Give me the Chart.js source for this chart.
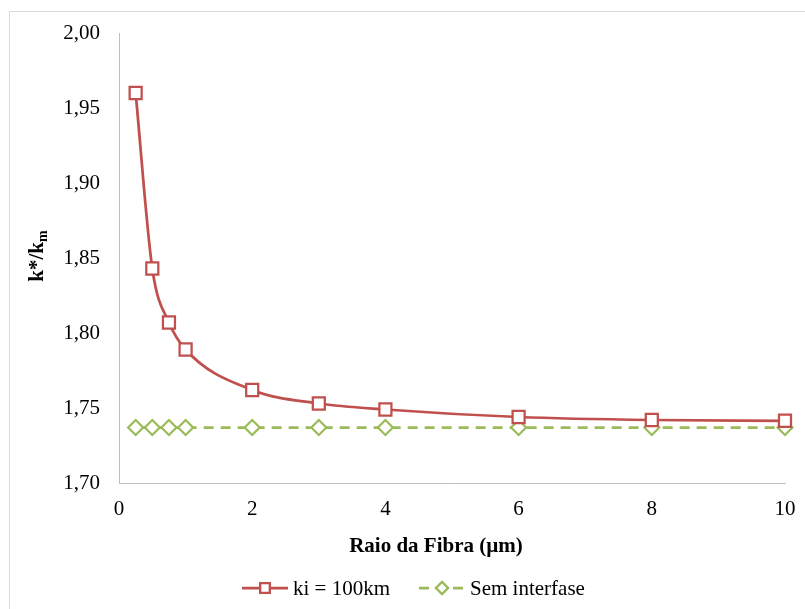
<!DOCTYPE html>
<html>
<head>
<meta charset="utf-8">
<script src="https://cdn.jsdelivr.net/npm/chart.js@4/dist/chart.umd.min.js"></script>
<style>
  html, body { margin: 0; padding: 0; background: #fff; }
  #wrap { width: 805px; height: 609px; }
</style>
</head>
<body>
<div id="wrap"><canvas id="chart" width="805" height="609"></canvas></div>
<script>
// fibre radius (µm)
const radius = [0.25, 0.5, 0.75, 1, 2, 3, 4, 6, 8, 10];
// k*/km for ki = 100km
const kiSeries = [1.960, 1.843, 1.807, 1.789, 1.762, 1.753, 1.749, 1.744, 1.742, 1.7415];
// k*/km without interphase
const semSeries = [1.737, 1.737, 1.737, 1.737, 1.737, 1.737, 1.737, 1.737, 1.737, 1.737];

const xTicks = [0, 2, 4, 6, 8, 10];
const yTicks = [1.70, 1.75, 1.80, 1.85, 1.90, 1.95, 2.00];

const RED = '#C0504D';
const GREEN = '#9BBB59';
const SERIF = '"Liberation Serif", "Times New Roman", serif';

const toPoints = ys => radius.map((x, i) => ({ x: x, y: ys[i] }));

// draws frame, axis titles and the legend (Excel style: line + marker)
const decorations = {
  id: 'decorations',
  beforeDraw(chart) {
    const ctx = chart.ctx;
    ctx.save();
    ctx.strokeStyle = '#d9d9d9';
    ctx.lineWidth = 1;
    ctx.strokeRect(9.5, 11.5, 820, 620);
    ctx.restore();
  },
  afterDraw(chart) {
    const ctx = chart.ctx;
    const area = chart.chartArea;
    ctx.save();
    ctx.fillStyle = '#000';

    // x title
    ctx.font = 'bold 21px ' + SERIF;
    ctx.textAlign = 'center';
    ctx.textBaseline = 'middle';
    ctx.fillText('Raio da Fibra (µm)', 436, 547);

    // y title with subscript
    ctx.save();
    ctx.translate(43, (area.top + area.bottom) / 2 - 2);
    ctx.rotate(-Math.PI / 2);
    ctx.textBaseline = 'alphabetic';
    ctx.textAlign = 'left';
    const main = 'k*/k';
    ctx.font = 'bold 21px ' + SERIF;
    const w1 = ctx.measureText(main).width;
    ctx.font = 'bold 14px ' + SERIF;
    const w2 = ctx.measureText('m').width;
    const x0 = -(w1 + w2) / 2;
    ctx.font = 'bold 21px ' + SERIF;
    ctx.fillText(main, x0, 0);
    ctx.font = 'bold 14px ' + SERIF;
    ctx.fillText('m', x0 + w1, 4);
    ctx.restore();

    // legend
    const ly = 588;
    ctx.font = '21px ' + SERIF;
    ctx.textAlign = 'left';
    ctx.textBaseline = 'middle';
    const items = chart.data.datasets;
    let x = 242;
    items.forEach((ds, i) => {
      ctx.save();
      ctx.strokeStyle = ds.borderColor;
      ctx.lineWidth = ds.borderWidth;
      ctx.setLineDash(ds.borderDash || []);
      ctx.beginPath();
      ctx.moveTo(x, ly);
      ctx.lineTo(x + 46, ly);
      ctx.stroke();
      ctx.setLineDash([]);
      ctx.fillStyle = '#fff';
      ctx.lineWidth = 2.25;
      Chart.helpers.drawPoint(ctx, {
        pointStyle: ds.pointStyle,
        radius: ds.pointRadius * 0.8,
        rotation: 0,
        borderWidth: 2.25
      }, x + 23, ly);
      ctx.fill();
      ctx.stroke();
      ctx.restore();
      ctx.fillStyle = '#000';
      ctx.fillText(ds.label, x + 51, ly + 1);
      x += 51 + ctx.measureText(ds.label).width + 29;
    });
    ctx.restore();
  }
};

new Chart(document.getElementById('chart'), {
  type: 'line',
  data: {
    datasets: [
      {
        label: 'ki = 100km',
        data: toPoints(kiSeries),
        borderColor: RED,
        backgroundColor: '#fff',
        borderWidth: 2.75,
        cubicInterpolationMode: 'monotone',
        pointStyle: 'rect',
        pointRadius: 8.5,
        pointBorderWidth: 2.25,
        pointBackgroundColor: '#fff',
        pointBorderColor: RED,
        clip: false
      },
      {
        label: 'Sem interfase',
        data: toPoints(semSeries),
        borderColor: GREEN,
        backgroundColor: '#fff',
        borderWidth: 2.75,
        borderDash: [10, 7],
        pointStyle: 'rectRot',
        pointRadius: 7.5,
        pointBorderWidth: 2.25,
        pointBackgroundColor: '#fff',
        pointBorderColor: GREEN,
        clip: false
      }
    ]
  },
  options: {
    responsive: false,
    animation: false,
    events: [],
    layout: { padding: { left: 10, top: 33, right: 20, bottom: 0 } },
    plugins: {
      legend: { display: false },
      tooltip: { enabled: false }
    },
    scales: {
      x: {
        type: 'linear',
        min: 0,
        max: 10,
        afterBuildTicks: s => { s.ticks = xTicks.map(v => ({ value: v })); },
        afterFit: s => { s.height = 126; s.paddingLeft = 0; s.paddingRight = 0; },
        grid: { display: false, drawTicks: false },
        border: { display: true, color: '#bfbfbf', width: 1 },
        ticks: {
          color: '#000',
          padding: 14,
          maxRotation: 0,
          font: { family: SERIF, size: 21 }
        }
      },
      y: {
        min: 1.70,
        max: 2.00,
        afterBuildTicks: s => { s.ticks = yTicks.map(v => ({ value: v })); },
        afterFit: s => { s.width = 109; s.paddingTop = 0; s.paddingBottom = 0; },
        grid: { display: false, drawTicks: false },
        border: { display: true, color: '#bfbfbf', width: 1 },
        ticks: {
          color: '#000',
          padding: 19,
          font: { family: SERIF, size: 21 },
          callback: v => v.toFixed(2).replace('.', ',')
        }
      }
    }
  },
  plugins: [decorations]
});
</script>
</body>
</html>
